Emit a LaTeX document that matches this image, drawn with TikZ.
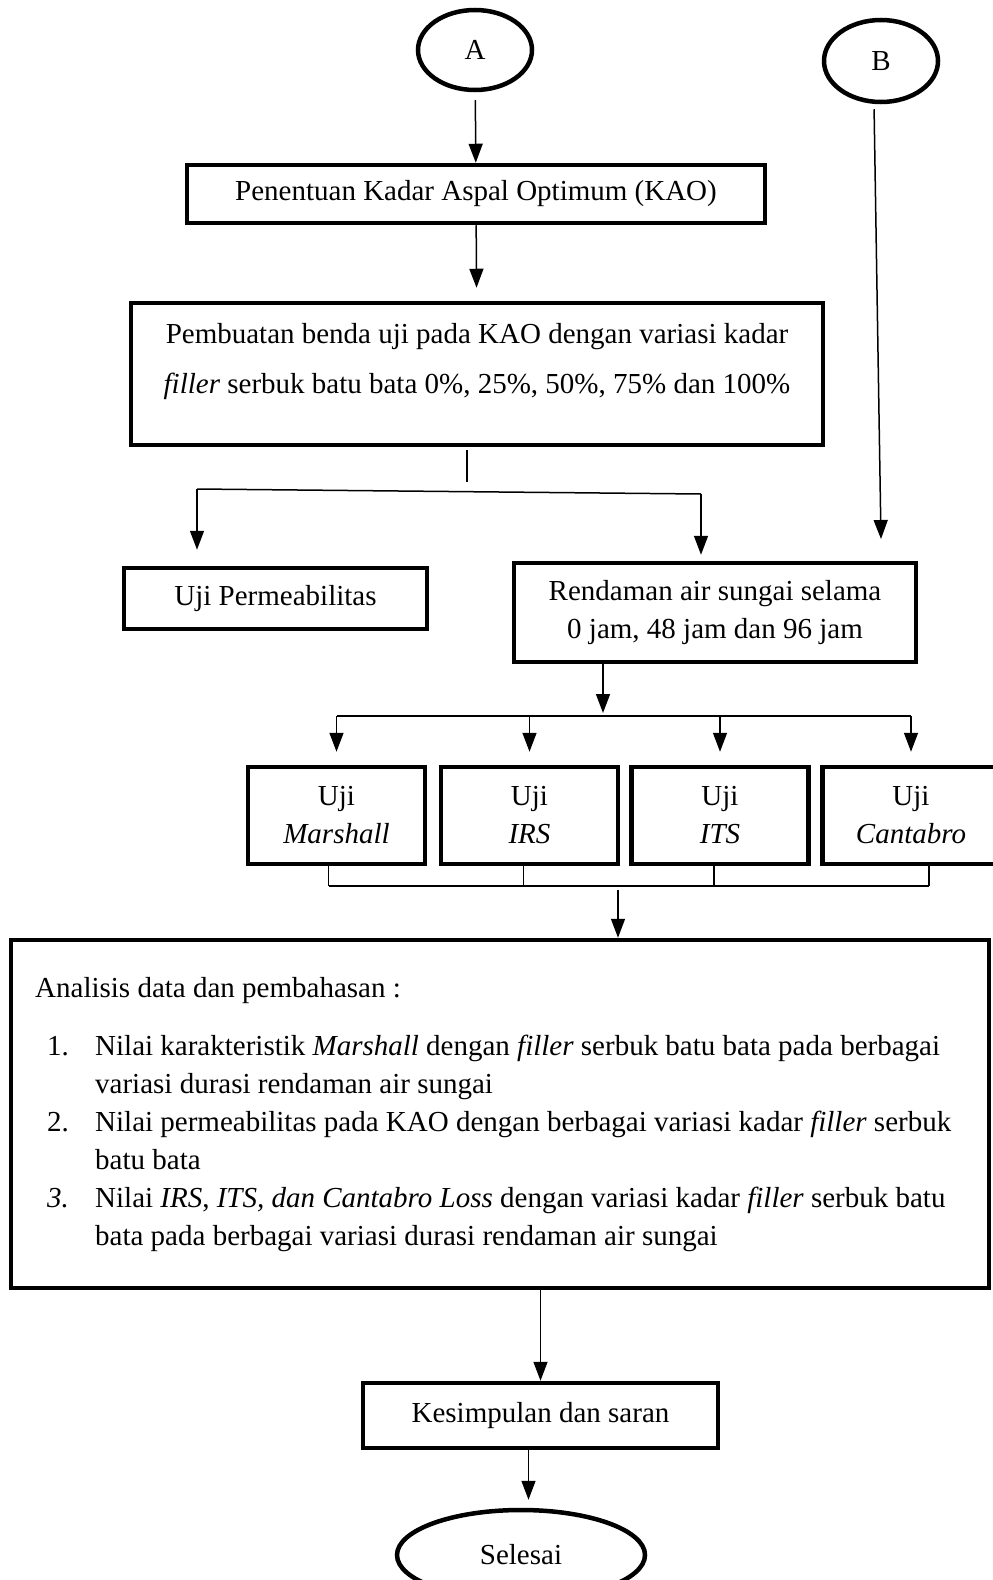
\documentclass[tikz,border=0pt]{standalone}
\usepackage{fontspec}
\setmainfont{Liberation Serif}
\usetikzlibrary{shapes.geometric,arrows.meta,positioning,calc}

\begin{document}
\begin{tikzpicture}[x=1bp, y=-1bp,
  every node/.style={font=\fontsize{29bp}{38bp}\selectfont, inner sep=0pt},
  kotak/.style={draw, rectangle, line width=4.5bp},
  bulat/.style={draw, ellipse, line width=4.5bp},
  panah/.style={-{Triangle[width=14bp,length=19bp]}, line width=1.5bp},
  garis/.style={line width=1.5bp}]

\useasboundingbox (0,0) rectangle (992,1580);

% Connector circles
\node[bulat, minimum width=114bp, minimum height=80bp] (A) at (475,50) {A};
\node[bulat, minimum width=114bp, minimum height=82bp] (B) at (881,61) {B};

% Main process boxes
\node[kotak, minimum width=578bp, minimum height=58bp] (kao) at (476,194) {Penentuan Kadar Aspal Optimum (KAO)};
\node[kotak, minimum width=692bp, minimum height=142bp] (buat) at (477,374) {};
\node[align=center] (buattxt) at (477,362) {Pembuatan benda uji pada KAO dengan variasi kadar\\[12bp]
  \textit{filler} serbuk batu bata 0\%, 25\%, 50\%, 75\% dan 100\%};

% Branch boxes
\node[kotak, minimum width=303bp, minimum height=61bp] (perm) at (275.5,598.5) {Uji Permeabilitas};
\node[kotak, minimum width=402bp, minimum height=99bp, align=center] (rend) at (715,612.5) {Rendaman air sungai selama\\0 jam, 48 jam dan 96 jam};

% Test boxes
\foreach \nama/\xx/\teks in {mar/336.5/Marshall, irs/529.5/IRS, its/720/ITS, can/911/Cantabro}
  \node[kotak, minimum width=177bp, minimum height=97bp, align=center] (\nama) at (\xx,815.5) {Uji\\\textit{\teks}};

% Analysis box
\node[kotak, minimum width=978bp, minimum height=348bp] (analisis) at (500,1114) {};
\node[anchor=north west, align=left] (isi) at (35,977) {Analisis data dan pembahasan :\\[20bp]
  \hspace*{12bp}\makebox[48bp][l]{1.}Nilai karakteristik \textit{Marshall} dengan \textit{filler} serbuk batu bata pada berbagai\\
  \hspace*{60bp}variasi durasi rendaman air sungai\\
  \hspace*{12bp}\makebox[48bp][l]{2.}Nilai permeabilitas pada KAO dengan berbagai variasi kadar \textit{filler} serbuk\\
  \hspace*{60bp}batu bata\\
  \hspace*{12bp}\makebox[48bp][l]{\textit{3.}}Nilai \textit{IRS}, \textit{ITS, dan Cantabro Loss} dengan variasi kadar \textit{filler} serbuk batu\\
  \hspace*{60bp}bata pada berbagai variasi durasi rendaman air sungai};

% End boxes
\node[kotak, minimum width=355bp, minimum height=65bp] (kes) at (540.5,1415.5) {Kesimpulan dan saran};
\node[bulat, minimum width=248bp, minimum height=90bp] (sel) at (521,1555) {Selesai};

% Junction points
\coordinate (c1) at (467,482);
\coordinate (kiri) at (197,489);
\coordinate (kanan) at (701,494);
\coordinate (bujung) at (881,539);
\coordinate (c2) at (603,716);
\coordinate (gabung) at (618,886);

% Connections
\draw[panah, shorten <=8bp] (A) -- (kao);
\draw[panah, shorten >=13bp] (kao) -- (buat);
\draw[garis, shorten <=3bp] (buat.south -| c1) -- (c1);
\draw[garis] (kiri) -- (kanan);
\draw[panah, shorten >=16bp] (kiri) -- (kiri |- perm.north);
\draw[panah, shorten >=6bp] (kanan) -- (kanan |- rend.north);
\draw[panah, shorten <=5bp] ([xshift=-7bp]B.south) -- (bujung);

\draw[panah, shorten >=3bp] (rend.south -| c2) -- (c2);
\draw[garis] (c2 -| mar.north) -- (c2 -| can.north);
\foreach \n in {mar, irs, its, can}
  \draw[panah, shorten >=13bp] (c2 -| \n.north) -- (\n.north);

% Collecting lines under the tests
\foreach \n/\dx in {mar/-8, irs/-6, its/-6, can/18}
  \draw[garis] ([xshift=\dx bp]\n.south) -- ([xshift=\dx bp]\n.south |- gabung);
\draw[garis] ([xshift=-8bp]mar.south |- gabung) -- ([xshift=18bp]can.south |- gabung);
\draw[panah, shorten <=4bp] (gabung) -- (gabung |- analisis.north);

\draw[panah] (analisis.south -| kes.north) -- (kes.north);
\draw[panah, shorten >=8bp] ([xshift=-12bp]kes.south) -- ([xshift=-12bp]kes.south |- sel.north);

\end{tikzpicture}
\end{document}
